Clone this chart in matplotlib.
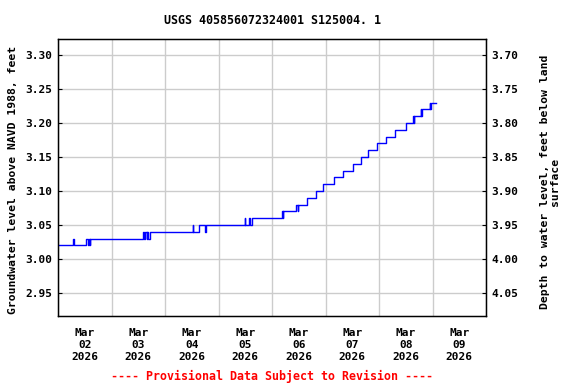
import numpy as np
import pandas as pd
import matplotlib
matplotlib.use("Agg")
import matplotlib.pyplot as plt
import matplotlib.dates as mdates

# Step changes in the record: hours after 2026-03-02 00:00 and level (ft)
hours = [0, 6.75, 7.0, 12.5, 13.25, 13.75, 14.25, 14.5,
         38.25, 38.75, 39.0, 39.75, 40.0, 40.5, 41.25,
         60.5, 60.75, 63.25, 66.0, 66.25,
         83.75, 84.0, 85.75, 86.0, 87.25,
         100.5, 100.75, 101.0, 106.75, 107.5, 107.75,
         111.5, 115.75, 119.0, 123.75, 128.0, 132.25, 136.0,
         139.25, 143.25, 147.25, 151.25, 156.0,
         159.25, 159.5, 159.75, 162.75, 163.0, 163.25,
         166.75, 167.0, 167.5, 169.5]
levels = [3.02, 3.03, 3.02, 3.03, 3.02, 3.03, 3.02, 3.03,
          3.04, 3.03, 3.04, 3.03, 3.04, 3.03, 3.04,
          3.05, 3.04, 3.05, 3.04, 3.05,
          3.06, 3.05, 3.06, 3.05, 3.06,
          3.07, 3.06, 3.07, 3.08, 3.07, 3.08,
          3.09, 3.10, 3.11, 3.12, 3.13, 3.14, 3.15,
          3.16, 3.17, 3.18, 3.19, 3.20,
          3.21, 3.20, 3.21, 3.22, 3.21, 3.22,
          3.23, 3.22, 3.23, 3.23]

LAND_OFFSET = 7.00   # depth = offset - level
left_ticks  = [2.95, 3.00, 3.05, 3.10, 3.15, 3.20, 3.25, 3.30]
right_ticks = [3.70, 3.75, 3.80, 3.85, 3.90, 3.95, 4.00, 4.05]
YLIM = (2.916, 3.3235)

start = pd.Timestamp("2026-03-02")
times = [start + pd.Timedelta(hours=h) for h in hours]

plt.rcParams["font.family"] = "DejaVu Sans Mono"
plt.rcParams["font.weight"] = "bold"

fig = plt.figure(figsize=(5.76, 3.84), dpi=100)
ax = fig.add_axes([58 / 576, 1 - 316 / 384, 428 / 576, 277 / 384])

ax.plot(times, levels, drawstyle="steps-post", color="#0000ff", lw=1)

ax.set_xlim(pd.Timestamp("2026-03-02"), pd.Timestamp("2026-03-10"))
ax.set_ylim(*YLIM)
ax.set_yticks(left_ticks)
ax.set_yticklabels([f"{v:.2f}" for v in left_ticks], fontsize=8, fontweight="bold")

# gridlines at midnight, labels centred at noon
ax.xaxis.set_major_locator(mdates.DayLocator())
ax.xaxis.set_major_formatter(plt.NullFormatter())
ax.xaxis.set_minor_locator(mdates.HourLocator(byhour=[12]))
ax.xaxis.set_minor_formatter(mdates.DateFormatter("%b\n%d\n%Y"))
ax.tick_params(axis="x", which="major", length=0)
ax.tick_params(axis="x", which="minor", length=0, pad=9, labelsize=8)
for lab in ax.get_xticklabels(minor=True):
    lab.set_fontweight("bold")
ax.tick_params(axis="y", length=3, direction="in", pad=4)

ax.grid(True, which="major", color="#cccccc", lw=1)
ax.set_axisbelow(True)
for sp in ax.spines.values():
    sp.set_linewidth(1)

ax2 = ax.twinx()
ax2.set_ylim(LAND_OFFSET - YLIM[0], LAND_OFFSET - YLIM[1])
ax2.set_yticks(right_ticks)
ax2.set_yticklabels([f"{v:.2f}" for v in right_ticks], fontsize=8, fontweight="bold")
ax2.tick_params(axis="y", length=3, direction="in", pad=4)

fig.text(272 / 576, 1 - 20 / 384, "USGS 405856072324001 S125004. 1",
         ha="center", va="center", fontsize=8.4, fontweight="bold")
fig.text(13 / 576, 1 - 180 / 384, "Groundwater level above NAVD 1988, feet",
         rotation=90, ha="center", va="center", fontsize=8.2, fontweight="bold")
fig.text(550 / 576, 1 - 182 / 384, "Depth to water level, feet below land\nsurface",
         rotation=90, ha="center", va="center", fontsize=8.2, fontweight="bold",
         linespacing=1.0, multialignment="center")
fig.text(272 / 576, 1 - 376 / 384, "---- Provisional Data Subject to Revision ----",
         ha="center", va="center", fontsize=8.4, fontweight="bold", color="red")

fig.savefig("out.png", dpi=100)
